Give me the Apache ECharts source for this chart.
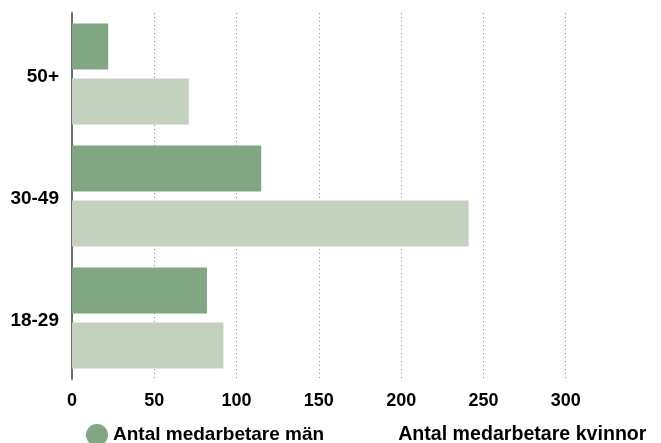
<!DOCTYPE html>
<html>
<head>
<meta charset="utf-8">
<script src="https://cdn.jsdelivr.net/npm/echarts@6/dist/echarts.min.js"></script>
<style>
  html, body { margin: 0; padding: 0; background: #fff; }
  #chart { width: 661px; height: 443px; }
</style>
</head>
<body>
<div id="chart"></div>
<script>
// Age groups, listed bottom to top on the category axis
const ageGroups = ['18-29', '30-49', '50+'];
const menLabel = 'Antal medarbetare män';
const womenLabel = 'Antal medarbetare kvinnor';
const menCounts = [82, 115, 22];
const womenCounts = [92, 241, 71];
const valueTicks = [0, 50, 100, 150, 200, 250, 300, 350];

const menColor = '#80a781';
const womenColor = '#c5d1bf';
const font = '"Liberation Sans", Arial, sans-serif';

// one grid line per tick; the outermost one stays hidden
const gridColors = valueTicks.map((v, i) => i === valueTicks.length - 1 ? 'rgba(0,0,0,0)' : '#8a8a8a');

const chart = echarts.init(document.getElementById('chart'), null, { renderer: 'canvas' });
chart.setOption({
  animation: false,
  backgroundColor: '#ffffff',
  grid: { left: 72, right: 13, top: 13, bottom: 64, containLabel: false },
  xAxis: {
    type: 'value',
    min: valueTicks[0],
    max: valueTicks[valueTicks.length - 1],
    interval: 50,
    axisLine: { show: false },
    axisTick: { show: false },
    axisLabel: {
      showMaxLabel: false,
      margin: 13,
      color: '#000',
      fontFamily: font,
      fontWeight: 'bold',
      fontSize: 18
    },
    splitLine: {
      show: true,
      lineStyle: { color: gridColors, type: [1, 3], width: 1 }
    }
  },
  yAxis: {
    type: 'category',
    data: ageGroups,
    axisLine: { show: true, lineStyle: { color: '#6e6e6e', width: 2 } },
    axisTick: { show: false },
    axisLabel: {
      margin: 13,
      formatter: '{g|{value}}',
      rich: {
        g: {
          padding: [6, 0, 0, 0],
          color: '#000',
          fontFamily: font,
          fontWeight: 'bold',
          fontSize: 19
        }
      }
    },
    splitLine: { show: false }
  },
  legend: {
    left: 81,
    bottom: -8,
    itemWidth: 22,
    itemHeight: 22,
    itemGap: 47,
    textStyle: { color: '#000', fontFamily: font, fontWeight: 'bold', fontSize: 19 },
    data: [
      { name: menLabel, icon: 'circle' },
      {
        name: womenLabel,
        icon: 'circle',
        itemStyle: { opacity: 0 },
        textStyle: { fontSize: 19.6 }
      }
    ]
  },
  series: [
    {
      name: menLabel,
      type: 'bar',
      data: menCounts,
      barWidth: 46,
      barGap: '20%',
      itemStyle: { color: menColor }
    },
    {
      name: womenLabel,
      type: 'bar',
      data: womenCounts,
      barWidth: 46,
      barGap: '20%',
      itemStyle: { color: womenColor }
    }
  ]
});
</script>
</body>
</html>
